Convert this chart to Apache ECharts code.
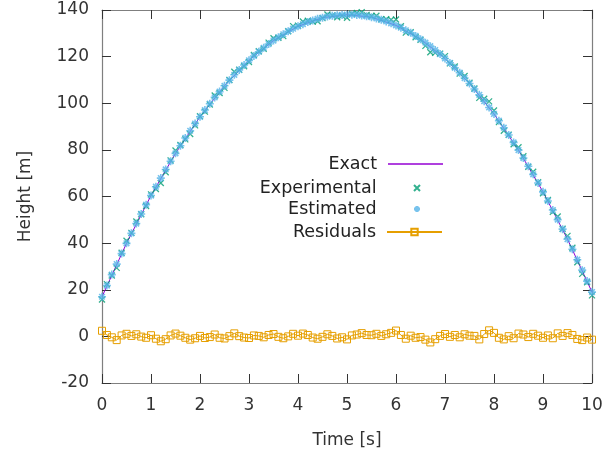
<!DOCTYPE html>
<html>
<head>
<meta charset="utf-8">
<script src="https://cdn.jsdelivr.net/npm/echarts@6/dist/echarts.min.js"></script>
<style>
  html, body { margin: 0; padding: 0; background: #fff; }
  #chart { width: 607px; height: 455px; }
</style>
</head>
<body>
<div id="chart"></div>
<script>
// exact trajectory, sampled every 0.5 s
const exactTime = [0, 0.5, 1, 1.5, 2, 2.5, 3, 3.5, 4, 4.5, 5, 5.5, 6, 6.5, 7, 7.5, 8, 8.5, 9, 9.5, 10]
const exactHeight = [17.0, 39.9, 60.4, 78.5, 94.2, 107.5, 118.4, 126.9, 133.0, 136.7, 138.0,
  136.9, 133.4, 127.5, 119.2, 108.5, 95.4, 79.9, 62.0, 41.7, 19.0]

// measurement times (s)
const time = [0, 0.1, 0.2, 0.3, 0.4, 0.5, 0.6, 0.7, 0.8, 0.9,
  1, 1.1, 1.2, 1.3, 1.4, 1.5, 1.6, 1.7, 1.8, 1.9,
  2, 2.1, 2.2, 2.3, 2.4, 2.5, 2.6, 2.7, 2.8, 2.9,
  3, 3.1, 3.2, 3.3, 3.4, 3.5, 3.6, 3.7, 3.8, 3.9,
  4, 4.1, 4.2, 4.3, 4.4, 4.5, 4.6, 4.7, 4.8, 4.9,
  5, 5.1, 5.2, 5.3, 5.4, 5.5, 5.6, 5.7, 5.8, 5.9,
  6, 6.1, 6.2, 6.3, 6.4, 6.5, 6.6, 6.7, 6.8, 6.9,
  7, 7.1, 7.2, 7.3, 7.4, 7.5, 7.6, 7.7, 7.8, 7.9,
  8, 8.1, 8.2, 8.3, 8.4, 8.5, 8.6, 8.7, 8.8, 8.9,
  9, 9.1, 9.2, 9.3, 9.4, 9.5, 9.6, 9.7, 9.8, 9.9, 10]

const experimental = [15.8, 22.4, 26.1, 29.4, 35.9, 41.0, 44.4, 49.3, 52.4, 55.9,
  60.9, 63.2, 65.8, 70.4, 75.5, 79.7, 82.1, 84.5, 86.8, 90.5,
  94.4, 96.4, 99.5, 103.3, 104.4, 106.6, 110.0, 113.5, 114.4, 115.9,
  117.7, 120.7, 122.3, 123.4, 126.0, 127.9, 128.1, 128.8, 130.9, 133.1,
  133.3, 135.1, 135.4, 135.0, 135.2, 136.5, 138.1, 137.7, 136.9, 137.5,
  136.7, 138.4, 138.7, 139.0, 137.9, 137.4, 137.5, 136.0, 136.0, 135.8,
  135.9, 133.0, 130.3, 130.5, 128.3, 127.2, 124.6, 121.9, 121.6, 121.3,
  120.2, 117.1, 115.8, 112.7, 111.7, 108.8, 106.3, 102.3, 101.9, 100.8,
  96.9, 91.9, 88.2, 86.5, 82.4, 81.1, 77.3, 72.7, 70.6, 66.1,
  61.4, 58.5, 53.4, 51.4, 46.2, 43.1, 38.0, 31.8, 26.8, 23.2, 17.6]

const estimated = [17.0, 21.8, 26.5, 31.0, 35.5, 39.9, 44.2, 48.4, 52.5, 56.5,
  60.4, 64.2, 67.9, 71.6, 75.1, 78.5, 81.8, 85.1, 88.2, 91.3,
  94.2, 97.1, 99.8, 102.5, 105.0, 107.5, 109.9, 112.2, 114.3, 116.4,
  118.4, 120.3, 122.1, 123.8, 125.4, 126.9, 128.3, 129.6, 130.9, 132.0,
  133.0, 133.9, 134.8, 135.5, 136.2, 136.7, 137.2, 137.5, 137.8, 137.9,
  138.0, 138.0, 137.9, 137.6, 137.3, 136.9, 136.4, 135.8, 135.1, 134.3,
  133.4, 132.4, 131.3, 130.2, 128.9, 127.5, 126.0, 124.5, 122.8, 121.1,
  119.2, 117.3, 115.2, 113.1, 110.8, 108.5, 106.1, 103.6, 100.9, 98.2,
  95.4, 92.5, 89.5, 86.4, 83.2, 79.9, 76.5, 73.0, 69.5, 65.8,
  62.0, 58.1, 54.2, 50.1, 46.0, 41.7, 37.4, 32.9, 28.4, 23.7, 19.0]

const residuals = [2.4, 0.6, -0.4, -1.6, 0.4, 1.1, 0.2, 0.9, -0.1, -0.6,
  0.5, -1.0, -2.1, -1.2, 0.4, 1.2, 0.3, -0.6, -1.4, -0.8,
  0.2, -0.7, -0.3, 0.8, -0.6, -0.9, 0.1, 1.3, 0.1, -0.5,
  -0.7, 0.4, 0.2, -0.4, 0.6, 1.0, -0.2, -0.8, 0.0, 1.1,
  0.3, 1.2, 0.6, -0.5, -1.0, -0.2, 0.9, 0.2, -0.9, -0.4,
  -1.3, 0.4, 0.8, 1.4, 0.6, 0.5, 1.1, 0.2, 0.9, 1.5,
  2.5, 0.6, -1.0, 0.3, -0.6, -0.3, -1.4, -2.6, -1.2, 0.2,
  1.0, -0.2, 0.6, -0.4, 0.9, 0.3, 0.2, -1.3, 1.0, 2.6,
  1.5, -0.6, -1.3, 0.1, -0.8, 1.2, 0.8, -0.3, 1.1, 0.3,
  -0.6, 0.4, -0.8, 1.3, 0.2, 1.4, 0.6, -1.1, -1.6, -0.5, -1.4]

const FONT = 'DejaVu Sans'
const colors = {
  exact: '#9400d3',
  experimental: '#009e73',
  estimated: '#56b4e9',
  residuals: '#e69f00'
}
const crossPath = 'path://M0,0L10,10M10,0L0,10'
const starPath = 'path://M5,0L5,10M0,5L10,5M1.5,1.5L8.5,8.5M8.5,1.5L1.5,8.5'

const pairs = (xs, ys) => xs.map((x, i) => [x, ys[i]])

const axisText = { fontFamily: FONT, fontSize: 17, color: '#333' }
const frame = { onZero: false, lineStyle: { color: '#7f7f7f', width: 1.2 } }
const tick = { inside: true, length: 9, lineStyle: { color: '#333', width: 1 } }

function legendFor(name, top, extra, textPad) {
  return Object.assign({
    data: [name],
    right: 164,
    top: top,
    padding: 0,
    align: 'right',
    itemWidth: 55,
    itemHeight: 8,
    selectedMode: false,
    textStyle: { fontFamily: FONT, fontSize: 17.5, color: '#222', lineHeight: 20, padding: [0, textPad || 6, 0, 0] }
  }, extra || {})
}

const chart = echarts.init(document.getElementById('chart'))

const option = {
  animation: false,
  backgroundColor: '#fff',
  grid: { left: 102, right: 15, top: 10, bottom: 72 },
  legend: [
    legendFor('Exact', 154, { itemHeight: 1.5, data: [{ name: 'Exact', icon: 'rect' }] }),
    // point-only entries: nudge the symbol to the middle of the sample slot
    legendFor('Experimental', 178, { right: 186, itemHeight: 6 }, 8),
    legendFor('Estimated', 199, { right: 186, itemHeight: 6 }, 8),
    legendFor('Residuals', 222)
  ],
  xAxis: [{
    type: 'value',
    min: 0,
    max: 10,
    interval: 1,
    name: 'Time [s]',
    nameLocation: 'middle',
    nameGap: 49,
    nameTextStyle: { fontFamily: FONT, fontSize: 17, color: '#333' },
    axisLine: frame,
    axisTick: tick,
    axisLabel: Object.assign({ margin: 14 }, axisText),
    splitLine: { show: false }
  }, {
    type: 'value',
    position: 'top',
    min: 0,
    max: 10,
    interval: 1,
    axisLine: frame,
    axisTick: tick,
    axisLabel: { show: false },
    splitLine: { show: false }
  }],
  yAxis: [{
    type: 'value',
    min: -20,
    max: 140,
    interval: 20,
    name: 'Height [m]',
    nameLocation: 'middle',
    nameGap: 68,
    nameTextStyle: { fontFamily: FONT, fontSize: 17, color: '#333' },
    axisLine: frame,
    axisTick: tick,
    axisLabel: Object.assign({ margin: 13 }, axisText),
    splitLine: { show: false }
  }, {
    type: 'value',
    position: 'right',
    min: -20,
    max: 140,
    interval: 20,
    axisLine: frame,
    axisTick: tick,
    axisLabel: { show: false },
    splitLine: { show: false }
  }],
  series: [
    {
      name: 'Exact',
      type: 'line',
      data: pairs(exactTime, exactHeight),
      showSymbol: false,
      symbol: 'none',
      color: colors.exact,
      lineStyle: { color: colors.exact, width: 1 },
      z: 2
    },
    {
      name: 'Experimental',
      type: 'scatter',
      data: pairs(time, experimental),
      symbol: crossPath,
      symbolSize: 6,
      itemStyle: { color: 'transparent', borderColor: colors.experimental, borderWidth: 1.3 },
      z: 3
    },
    {
      name: 'Estimated',
      type: 'scatter',
      data: pairs(time, estimated),
      symbol: starPath,
      symbolSize: 8,
      itemStyle: { color: 'transparent', borderColor: colors.estimated, borderWidth: 1.6 },
      z: 4
    },
    {
      name: 'Residuals',
      type: 'line',
      data: pairs(time, residuals),
      symbol: 'rect',
      symbolSize: 7,
      showAllSymbol: true,
      color: colors.residuals,
      lineStyle: { color: colors.residuals, width: 1 },
      itemStyle: { color: 'transparent', borderColor: colors.residuals, borderWidth: 1 },
      z: 5
    }
  ]
}

chart.setOption(option)
</script>
</body>
</html>
